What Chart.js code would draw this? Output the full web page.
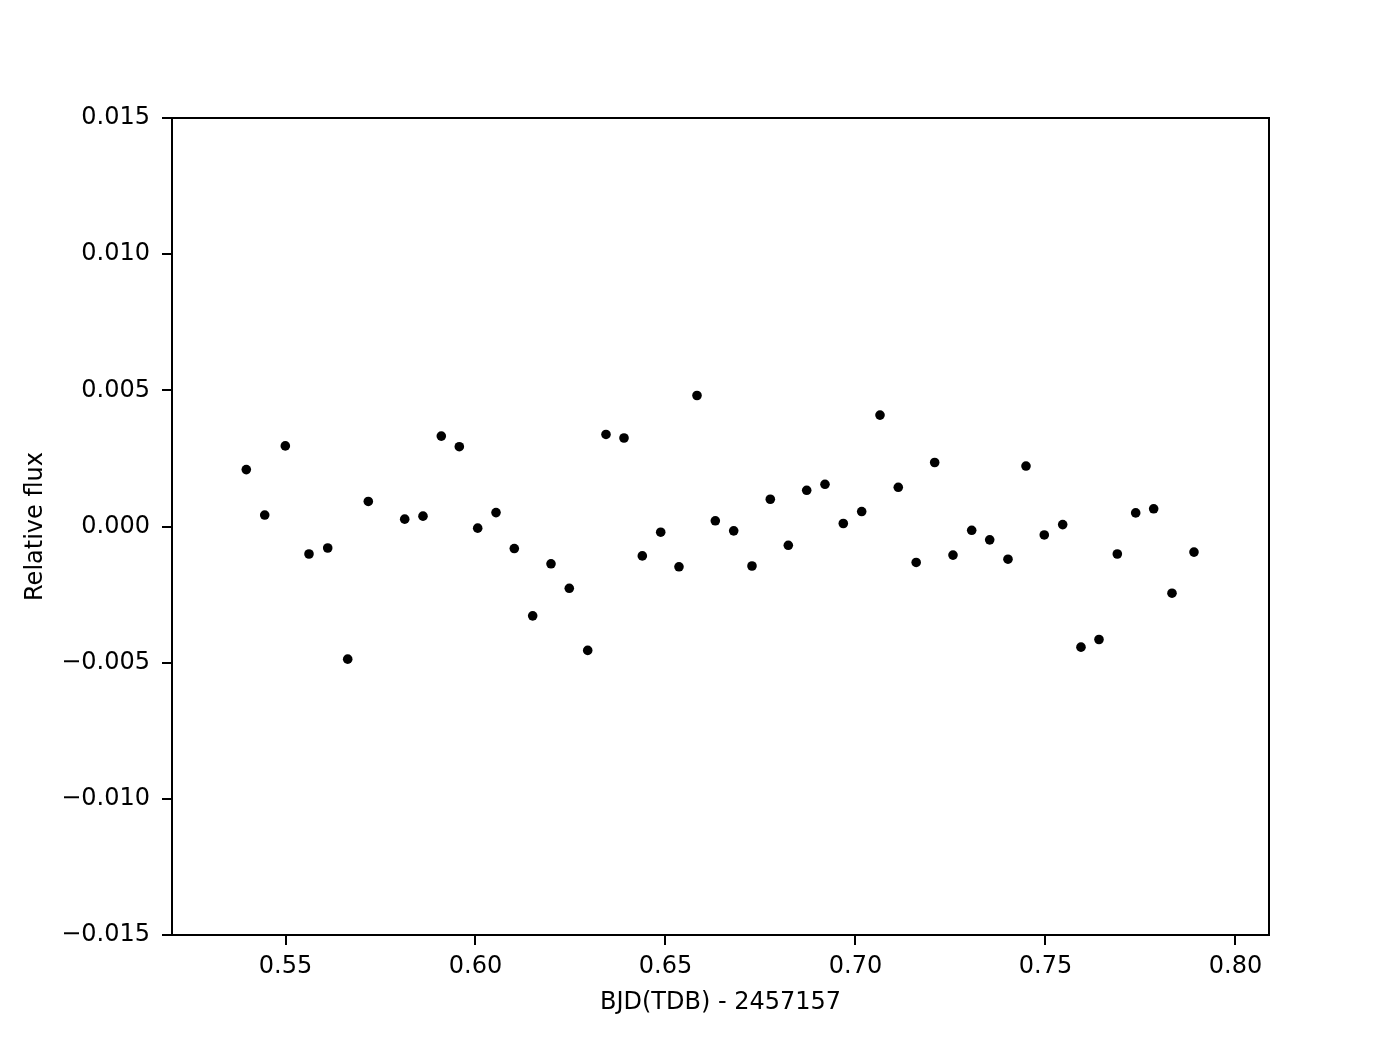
<!DOCTYPE html>
<html>
<head>
<meta charset="utf-8">
<script src="https://cdn.jsdelivr.net/npm/chart.js@4/dist/chart.umd.min.js"></script>
<style>
  html, body { margin: 0; padding: 0; background: #ffffff; }
  #wrap { width: 1398px; height: 1040px; position: relative; }
</style>
</head>
<body>
<div id="wrap"><canvas id="c" width="1398" height="1040"></canvas></div>
<script>
// ---- data ----
const bjd = [0.53968,0.54453,0.54995,0.55618,0.56111,0.56637,0.57179,0.58137,0.58618,0.59100,
             0.59574,0.60058,0.60540,0.61021,0.61505,0.61987,0.62468,0.62953,0.63434,0.63908,
             0.64390,0.64874,0.65355,0.65829,0.66311,0.66795,0.67276,0.67758,0.68232,0.68716,
             0.69197,0.69679,0.70163,0.70645,0.71126,0.71597,0.72084,0.72566,0.73058,0.73532,
             0.74013,0.74487,0.74968,0.75453,0.75934,0.76408,0.76890,0.77374,0.77847,0.78329,0.78908];
const relFlux = [0.00209,0.00042,0.00296,-0.00101,-0.00079,-0.00487,0.00092,0.00027,0.00038,0.00332,
                 0.00293,-0.00006,0.00051,-0.00081,-0.00328,-0.00137,-0.00227,-0.00455,0.00338,0.00325,
                 -0.00108,-0.00021,-0.00148,0.00481,0.00021,-0.00016,-0.00145,0.00100,-0.00069,0.00133,
                 0.00155,0.00011,0.00055,0.00409,0.00144,-0.00132,0.00235,-0.00105,-0.00014,-0.00049,
                 -0.00120,0.00222,-0.00031,0.00007,-0.00443,-0.00415,-0.00101,0.00050,0.00065,-0.00245,-0.00094];
const xTickValues = [0.55, 0.60, 0.65, 0.70, 0.75, 0.80];
const xTickLabels = ['0.55', '0.60', '0.65', '0.70', '0.75', '0.80'];
const yTickValues = [-0.015, -0.010, -0.005, 0.000, 0.005, 0.010, 0.015];
const yTickLabels = ['\u22120.015', '\u22120.010', '\u22120.005', '0.000', '0.005', '0.010', '0.015'];
const xTitle = 'BJD(TDB) - 2457157';
const yTitle = 'Relative flux';
const xRange = [0.52013, 0.80882];
const yRange = [-0.015, 0.015];

const FONT = 'DejaVu Sans';
const points = bjd.map((x, i) => ({ x: x, y: relFlux[i] }));

const framePlugin = {
  id: 'frame',
  afterDatasetsDraw(chart) {
    const a = chart.chartArea;
    const ctx = chart.ctx;
    ctx.save();
    ctx.strokeStyle = '#000';
    ctx.lineWidth = 2;
    ctx.strokeRect(Math.round(a.left), Math.round(a.top), Math.round(a.right - a.left), Math.round(a.bottom - a.top));
    ctx.restore();
  }
};

new Chart(document.getElementById('c'), {
  type: 'scatter',
  data: {
    datasets: [{
      data: points,
      pointRadius: 4.8,
      pointHoverRadius: 4.8,
      pointBackgroundColor: '#000',
      pointBorderWidth: 0,
      borderColor: '#000',
      showLine: false
    }]
  },
  options: {
    responsive: false,
    animation: false,
    devicePixelRatio: 1,
    layout: { padding: { left: 0, right: 129, top: 118, bottom: 0 } },
    plugins: { legend: { display: false }, tooltip: { enabled: false } },
    scales: {
      x: {
        type: 'linear',
        position: 'bottom',
        min: xRange[0],
        max: xRange[1],
        afterBuildTicks: (s) => { s.ticks = xTickValues.map(v => ({ value: v })); },
        afterFit: (s) => { s.height = 105; },
        grid: { display: true, drawOnChartArea: false, drawTicks: true, tickLength: 10, color: '#000', lineWidth: 2 },
        border: { display: true, color: '#000', width: 2 },
        ticks: {
          color: '#000',
          padding: 7,
          maxRotation: 0,
          autoSkip: false,
          font: { family: FONT, size: 24 },
          callback: (v) => { const i = xTickValues.findIndex(t => Math.abs(t - v) < 1e-9); return i >= 0 ? xTickLabels[i] : ''; }
        },
        title: { display: true, text: xTitle, color: '#000', font: { family: FONT, size: 24 }, padding: { top: 0, bottom: 23 } }
      },
      y: {
        type: 'linear',
        position: 'left',
        min: yRange[0],
        max: yRange[1],
        afterBuildTicks: (s) => { s.ticks = yTickValues.map(v => ({ value: v })); },
        afterFit: (s) => { s.width = 172; },
        grid: { display: true, drawOnChartArea: false, drawTicks: true, tickLength: 10, color: '#000', lineWidth: 2 },
        border: { display: true, color: '#000', width: 2 },
        ticks: {
          color: '#000',
          padding: 12,
          autoSkip: false,
          font: { family: FONT, size: 24 },
          callback: (v) => { const i = yTickValues.findIndex(t => Math.abs(t - v) < 1e-9); return i >= 0 ? yTickLabels[i] : ''; }
        },
        title: { display: true, text: yTitle, color: '#000', font: { family: FONT, size: 24 }, padding: { top: 21, bottom: 0 } }
      }
    }
  },
  plugins: [framePlugin]
});
</script>
</body>
</html>
